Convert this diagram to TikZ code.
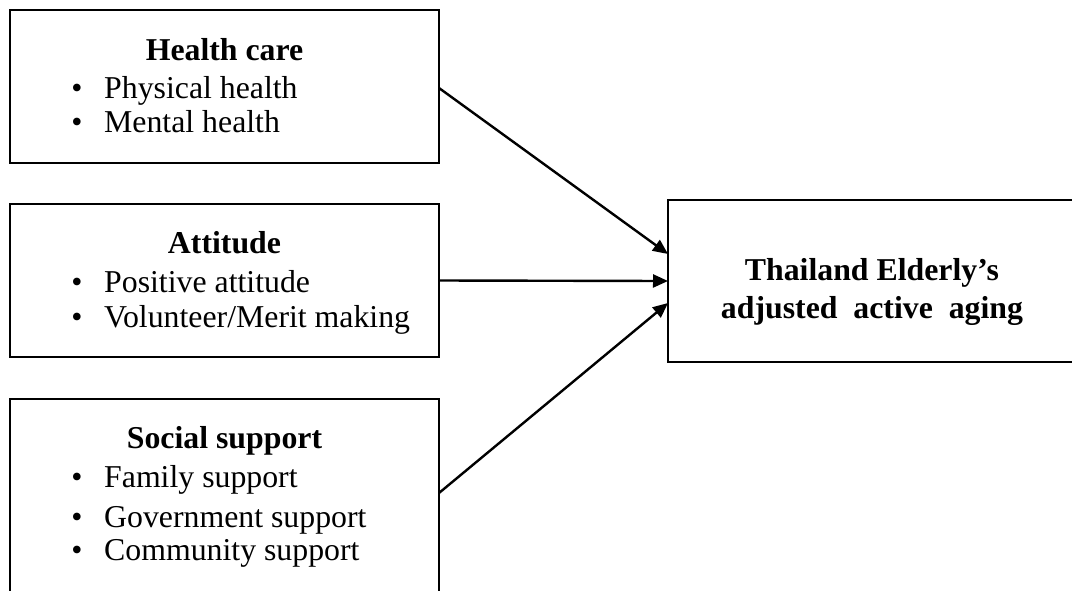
\documentclass[tikz,border=0pt]{standalone}
\usepackage{fontspec}
\setmainfont{Liberation Serif}
\usetikzlibrary{arrows.meta}
\tikzset{
  box/.style={draw, line width=2.7pt, inner sep=0pt, outer sep=0pt},
  txt/.style={inner sep=0pt, anchor=base west, font=\fontsize{31.8}{38}\selectfont},
  head/.style={inner sep=0pt, anchor=base, font=\fontsize{31.8}{38}\selectfont\bfseries},
  bul/.style={inner sep=0pt, anchor=base, font=\fontsize{31.8}{38}\selectfont},
  arr/.style={line width=2.4pt, -{Triangle[length=15pt,width=13pt]}}
}
\begin{document}
\begin{tikzpicture}[x=1pt,y=-1pt]
\useasboundingbox (0,0) rectangle (1072,590);
\clip (0,0) rectangle (1072,590);
% boxes
\node[box, minimum width=429pt, minimum height=153pt] (hc) at (224.5,86.5) {};
\node[box, minimum width=429pt, minimum height=153pt] (at) at (224.5,280.5) {};
\node[box, minimum width=429pt, minimum height=194pt] (ss) at (224.5,496) {};
\node[box, minimum width=412pt, minimum height=162pt] (ae) at (874,281) {};
% box 1
\node[head] (hch) at (224.5,60) {Health care};
\node[bul] (hcb1) at (77,98) {\textbullet};
\node[txt] (hct1) at (104,98) {Physical health};
\node[bul] (hcb2) at (77,132) {\textbullet};
\node[txt] (hct2) at (104,132) {Mental health};
% box 2
\node[head] (ath) at (224.5,253) {Attitude};
\node[bul] (atb1) at (77,292) {\textbullet};
\node[txt] (att1) at (104,292) {Positive attitude};
\node[bul] (atb2) at (77,327) {\textbullet};
\node[txt] (att2) at (104,327) {Volunteer/Merit making};
% box 3
\node[head] (ssh) at (224.5,448) {Social support};
\node[bul] (ssb1) at (77,487) {\textbullet};
\node[txt] (sst1) at (104,487) {Family support};
\node[bul] (ssb2) at (77,527) {\textbullet};
\node[txt] (sst2) at (104,527) {Government support};
\node[bul] (ssb3) at (77,560) {\textbullet};
\node[txt] (sst3) at (104,560) {Community support};
% right box
\node[head] (ae1) at (872,280) {Thailand Elderly’s};
\node[head] (ae2) at (872,318.5) {adjusted\ \ active\ \ aging};
% arrows
\draw[arr] ([yshift=-1.5pt]hc.east) -- ([yshift=27pt]ae.west);
\draw[arr] (at.east) -- (ae.west);
\draw[arr] ([yshift=3pt]ss.east) -- ([yshift=-22pt]ae.west);
\end{tikzpicture}
\end{document}
